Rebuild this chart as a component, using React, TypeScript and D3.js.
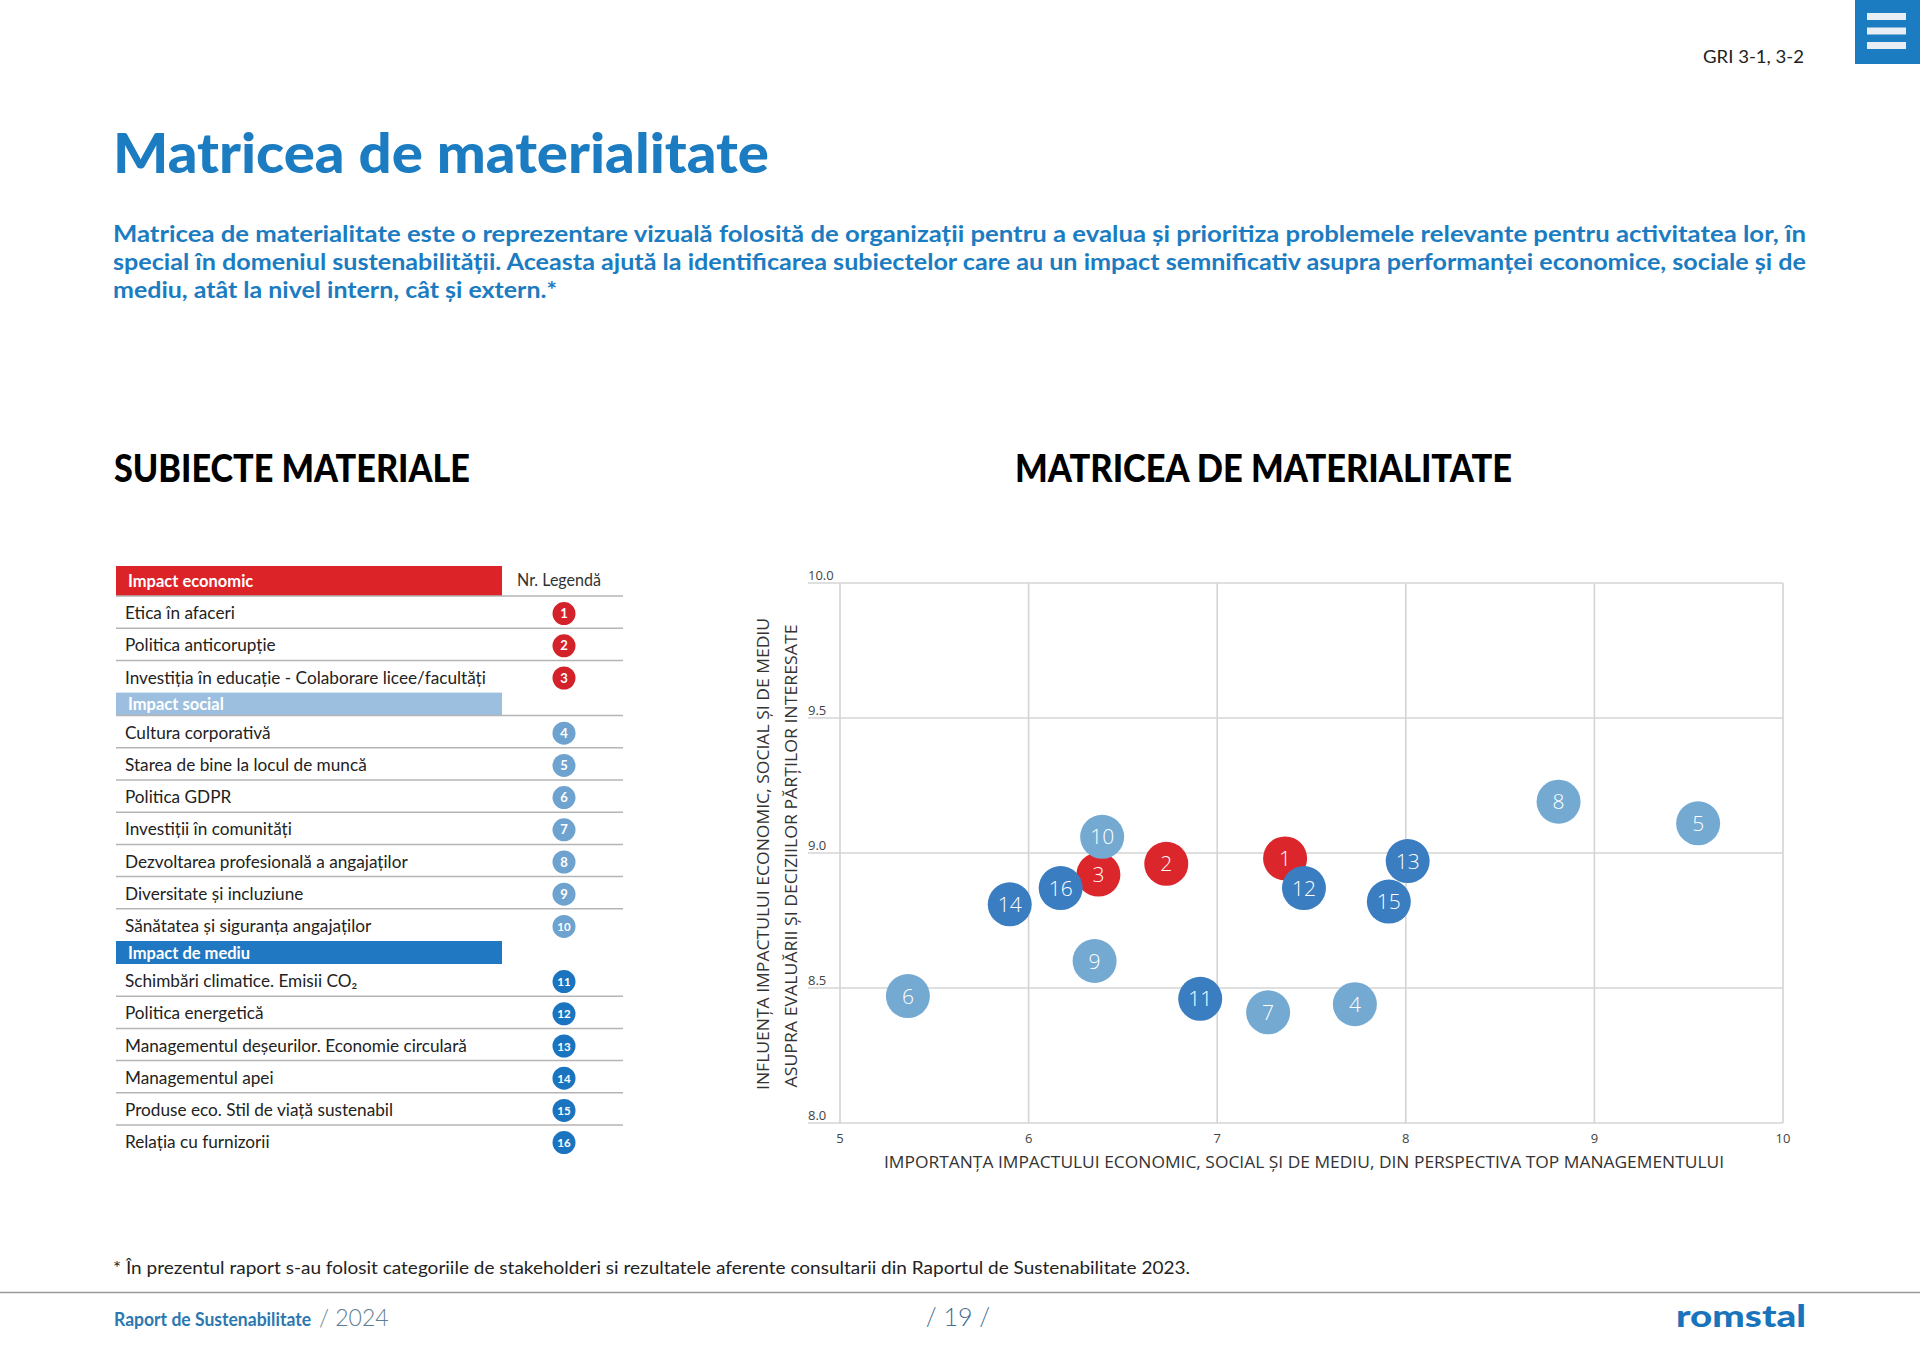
import React from "react";
import * as d3 from "d3";

// ---------- DATA ----------
const groupNames = ["Impact economic", "Impact social", "Impact de mediu"];
const topicNames = [
  "Etica în afaceri",
  "Politica anticorupție",
  "Investiția în educație - Colaborare licee/facultăți",
  "Cultura corporativă",
  "Starea de bine la locul de muncă",
  "Politica GDPR",
  "Investiții în comunități",
  "Dezvoltarea profesională a angajaților",
  "Diversitate și incluziune",
  "Sănătatea și siguranța angajaților",
  "Schimbări climatice. Emisii CO₂",
  "Politica energetică",
  "Managementul deșeurilor. Economie circulară",
  "Managementul apei",
  "Produse eco. Stil de viață sustenabil",
  "Relația cu furnizorii",
];
const topicGroup = [0, 0, 0, 1, 1, 1, 1, 1, 1, 1, 2, 2, 2, 2, 2, 2];
const topicIds = [1, 2, 3, 4, 5, 6, 7, 8, 9, 10, 11, 12, 13, 14, 15, 16];
// x: importance (top management), y: influence on stakeholders
const importanceX = [7.36, 6.73, 6.37, 7.73, 9.55, 5.36, 7.27, 8.81, 6.35, 6.39, 6.91, 7.46, 8.01, 5.9, 7.91, 6.17];
const influenceY = [8.98, 8.96, 8.92, 8.44, 9.11, 8.47, 8.41, 9.19, 8.6, 9.06, 8.46, 8.87, 8.97, 8.81, 8.82, 8.87];
const xTicks = [5, 6, 7, 8, 9, 10];
const yTicks = [8.0, 8.5, 9.0, 9.5, 10.0];

const pageTitle = "Matricea de materialitate";
const introLines = [
  "Matricea de materialitate este o reprezentare vizuală folosită de organizații pentru a evalua și prioritiza problemele relevante pentru activitatea lor, în",
  "special în domeniul sustenabilității. Aceasta ajută la identificarea subiectelor care au un impact semnificativ asupra performanței economice, sociale și de",
  "mediu, atât la nivel intern, cât și extern.*",
];
const leftHeading = "SUBIECTE MATERIALE";
const rightHeading = "MATRICEA DE MATERIALITATE";
const legendHeader = "Nr. Legendă";
const xAxisTitle = "IMPORTANȚA IMPACTULUI ECONOMIC, SOCIAL ȘI DE MEDIU, DIN PERSPECTIVA TOP MANAGEMENTULUI";
const yAxisTitle = ["INFLUENȚA IMPACTULUI ECONOMIC, SOCIAL ȘI DE MEDIU", "ASUPRA EVALUĂRII ȘI DECIZIILOR PĂRȚILOR INTERESATE"];
const footnote = "* În prezentul raport s-au folosit categoriile de stakeholderi si rezultatele aferente consultarii din Raportul de Sustenabilitate 2023.";
const gri = "GRI 3-1, 3-2";

// ---------- STYLE ----------
const BLUE = "#1b7cc1";
const bubbleColors = ["#db262c", "#74a9d2", "#3a7dc0"];
const badgeColors = ["#d4222a", "#6fa3cf", "#1b74bf"];
const barColors = ["#dc2328", "#9dbfdf", "#1f78c1"];
const chartFont = "'Open Sans', 'Noto Sans', sans-serif";
const tableFont = "Lato, 'Open Sans', sans-serif";

export default function App() {
  const x = d3.scaleLinear().domain([5, 10]).range([840, 1783]);
  const y = d3.scaleLinear().domain([8, 10]).range([1123, 583]);
  const fmtY = d3.format(".1f");
  const gridLeft = 808;

  // table layout
  const tableLeft = 116;
  const tableRight = 623;
  const barRight = 502;
  const badgeX = 564;
  const rowH = 32.2;
  const barH = 23;
  const rows: any[] = [];
  const bars: any[] = [];
  let cy = 566;
  bars.push({ g: 0, y0: cy, y1: cy + 30 });
  cy += 30;
  topicNames.forEach((name, i) => {
    const g = topicGroup[i];
    if (i > 0 && topicGroup[i - 1] !== g) {
      bars.push({ g, y0: cy, y1: cy + barH });
      cy += barH;
    }
    const next = topicGroup[i + 1];
    rows.push({ name, id: topicIds[i], g, y0: cy, y1: cy + rowH, line: next === g });
    cy += rowH;
  });

  const points = topicIds.map((id, i) => ({ id, g: topicGroup[i], x: importanceX[i], y: influenceY[i] }));

  return (
    <svg
      width={1920}
      height={1358}
      viewBox="0 0 1920 1358"
      style={{ position: "absolute", left: 0, top: 0, background: "#fff" }}
    >
      <rect x={0} y={0} width={1920} height={1358} fill="#fff" />

      {/* menu box */}
      <rect x={1855} y={0} width={65} height={64} fill={BLUE} />
      {[13, 27.5, 42].map((by, i) => (
        <rect key={i} x={1867} y={by} width={39} height={7} fill="#e8eef4" />
      ))}
      <text x={1804} y={63} textAnchor="end" fontFamily={tableFont} fontSize={18} fill="#222" textLength={101} lengthAdjust="spacingAndGlyphs">
        {gri}
      </text>

      {/* title */}
      <text x={113} y={173} fontFamily={tableFont} fontWeight={900} fontSize={56} fill={BLUE} textLength={656} lengthAdjust="spacingAndGlyphs">
        {pageTitle}
      </text>
      {introLines.map((t, i) => (
        <text
          key={i}
          x={113}
          y={242 + i * 28}
          fontFamily={tableFont}
          fontWeight={700}
          fontSize={22}
          fill={BLUE}
          textLength={i < 2 ? 1693 : 444}
          lengthAdjust="spacingAndGlyphs"
        >
          {t}
        </text>
      ))}

      {/* section headings */}
      <text x={114} y={482} fontFamily={tableFont} fontWeight={900} fontSize={37} fill="#000" textLength={356} lengthAdjust="spacingAndGlyphs">
        {leftHeading}
      </text>
      <text x={1015} y={482} fontFamily={tableFont} fontWeight={900} fontSize={37} fill="#000" textLength={497} lengthAdjust="spacingAndGlyphs">
        {rightHeading}
      </text>

      {/* table */}
      <g>
        {bars.map((b, i) => (
          <g key={"b" + i}>
            <rect x={tableLeft} y={b.y0} width={barRight - tableLeft} height={b.y1 - b.y0} fill={barColors[b.g]} />
            <text x={128} y={(b.y0 + b.y1) / 2 + 6} fontFamily={tableFont} fontWeight={700} fontSize={16.5} fill="#fff">
              {groupNames[b.g]}
            </text>
            {b.g < 2 && <line x1={tableLeft} x2={tableRight} y1={b.y1} y2={b.y1} stroke="#b5b5b5" strokeWidth={1.5} />}
          </g>
        ))}
        <text x={517} y={586} fontFamily={tableFont} fontSize={16.5} fill="#333" textLength={84} lengthAdjust="spacingAndGlyphs">
          {legendHeader}
        </text>
        {rows.map((r) => {
          const mid = (r.y0 + r.y1) / 2 + 1;
          return (
            <g key={r.id}>
              <text x={125} y={mid + 6} fontFamily={tableFont} fontSize={17.2} fill="#222">
                {r.name}
              </text>
              <circle cx={badgeX} cy={mid + 0.5} r={11.5} fill={badgeColors[r.g]} />
              <text x={badgeX} y={mid + 5} textAnchor="middle" fontFamily={tableFont} fontWeight={700} fontSize={r.id > 9 ? 11.5 : 13} fill="#fff">
                {r.id}
              </text>
              {r.line && <line x1={tableLeft} x2={tableRight} y1={r.y1} y2={r.y1} stroke="#b5b5b5" strokeWidth={1.5} />}
            </g>
          );
        })}
      </g>

      {/* chart grid */}
      <g>
        {yTicks.map((t) => (
          <g key={"y" + t}>
            <line x1={gridLeft} x2={x(10)} y1={y(t)} y2={y(t)} stroke="#d4d4d4" strokeWidth={1.6} />
            <text x={gridLeft} y={y(t) - 3} fontFamily={chartFont} fontSize={13} fill="#444">
              {fmtY(t)}
            </text>
          </g>
        ))}
        {xTicks.map((t) => (
          <g key={"x" + t}>
            <line x1={x(t)} x2={x(t)} y1={y(10)} y2={y(8)} stroke="#d4d4d4" strokeWidth={1.6} />
            <text x={x(t)} y={1143} textAnchor="middle" fontFamily={chartFont} fontSize={13} fill="#444">
              {t}
            </text>
          </g>
        ))}
      </g>

      {/* axis titles */}
      <text x={1304} y={1168} textAnchor="middle" fontFamily={chartFont} fontSize={17} fill="#333" textLength={840} lengthAdjust="spacingAndGlyphs">
        {xAxisTitle}
      </text>
      {yAxisTitle.map((t, i) => (
        <text
          key={i}
          transform={`translate(${769 + i * 28},${854 + i * 2}) rotate(-90)`}
          textAnchor="middle"
          fontFamily={chartFont}
          fontSize={17}
          fill="#333"
          textLength={i === 0 ? 472 : 463}
          lengthAdjust="spacingAndGlyphs"
        >
          {t}
        </text>
      ))}

      {/* bubbles */}
      {points.map((p) => (
        <g key={"p" + p.id}>
          <circle cx={x(p.x)} cy={y(p.y)} r={22} fill={bubbleColors[p.g]} />
          <text x={x(p.x)} y={y(p.y) + 7.5} textAnchor="middle" fontFamily={chartFont} fontWeight={300} fontSize={21} fill="#fff">
            {p.id}
          </text>
        </g>
      ))}

      {/* footnote & footer */}
      <text x={113} y={1274} fontFamily={tableFont} fontSize={17} fill="#222" textLength={1077} lengthAdjust="spacingAndGlyphs">
        {footnote}
      </text>
      <line x1={0} x2={1920} y1={1292.5} y2={1292.5} stroke="#9a9a9a" strokeWidth={1.5} />
      <text x={114} y={1326} fontFamily={tableFont} fontWeight={700} fontSize={18} fill="#2b78b1" textLength={197} lengthAdjust="spacingAndGlyphs">
        Raport de Sustenabilitate
      </text>
      <text x={319} y={1326} fontFamily={tableFont} fontWeight={300} fontSize={23} fill="#5f7d92">
        / 2024
      </text>
      <text x={958} y={1326} textAnchor="middle" fontFamily={tableFont} fontWeight={300} fontSize={25} fill="#3f6f8f">
        / 19 /
      </text>
      <text x={1676} y={1327} fontFamily={tableFont} fontWeight={900} fontSize={30} fill="#1a74bc" textLength={130} lengthAdjust="spacingAndGlyphs">
        romstal
      </text>
    </svg>
  );
}
